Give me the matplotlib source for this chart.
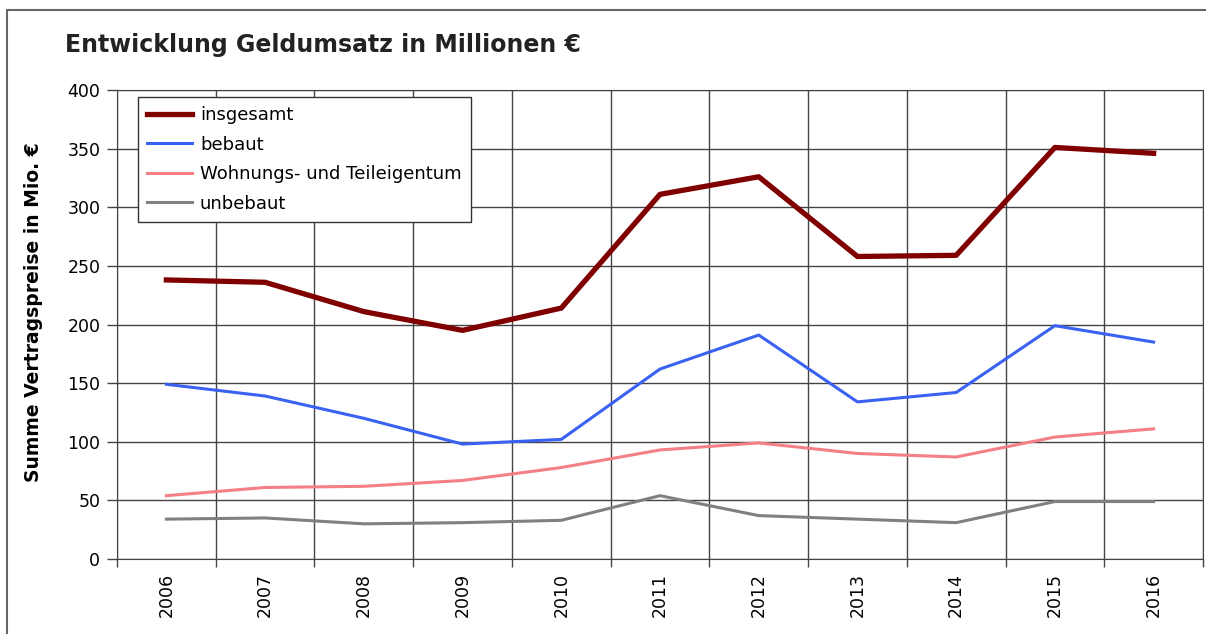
import matplotlib.pyplot as plt
from matplotlib.patches import Rectangle

plt.rcParams['font.family'] = ['DejaVu Sans']

jahre = ['2006', '2007', '2008', '2009', '2010', '2011', '2012', '2013', '2014', '2015', '2016']
insgesamt = [238, 236, 211, 195, 214, 311, 326, 258, 259, 351, 346]
bebaut = [149, 139, 120, 98, 102, 162, 191, 134, 142, 199, 185]
wohnungen = [54, 61, 62, 67, 78, 93, 99, 90, 87, 104, 111]
unbebaut = [34, 35, 30, 31, 33, 54, 37, 34, 31, 49, 49]

fig = plt.figure(figsize=(12.06, 6.34), dpi=100)
ax = fig.add_axes([117/1206, 75/634, 1086/1206, 469/634])

# Rahmen um das ganze Diagramm
fig.patches.append(Rectangle((7/1206, -0.05), 1.2, 1 - 10/634 + 0.05,
                             transform=fig.transFigure, fill=False,
                             edgecolor='#666666', lw=1.5))

x = list(range(len(jahre)))
ax.plot(x, insgesamt, color='#800000', lw=3.8, label='insgesamt')
ax.plot(x, bebaut, color='#3a62f2', lw=2.2, label='bebaut')
ax.plot(x, wohnungen, color='#f47f86', lw=2.2, label='Wohnungs- und Teileigentum')
ax.plot(x, unbebaut, color='#808080', lw=2.2, label='unbebaut')

ax.set_xlim(-0.5, len(jahre) - 0.5)
ax.set_ylim(0, 400)
ax.set_yticks(range(0, 401, 50))
ax.set_xticks(x)
ax.set_xticklabels(jahre, rotation=90, fontsize=12.5)
ax.set_xticks([i - 0.5 for i in range(len(jahre) + 1)], minor=True)
ax.tick_params(axis='x', which='major', length=0, pad=10)
ax.tick_params(axis='x', which='minor', length=6, width=1, color='#444444')
ax.tick_params(axis='y', length=7, width=1, color='#444444', labelsize=12.5, pad=5)

ax.grid(True, axis='y', which='major', color='#444444', lw=1)
ax.grid(True, axis='x', which='minor', color='#444444', lw=1)
ax.set_axisbelow(True)
for s in ax.spines.values():
    s.set_color('#444444')

ax.set_ylabel('Summe Vertragspreise in Mio. €', fontsize=13.5, fontweight='bold')
ax.yaxis.set_label_coords(-74/1086, 0.527)
fig.text(65/1206, 1 - 45/634, 'Entwicklung Geldumsatz in Millionen €',
         fontsize=17, fontweight='bold', ha='left', va='center', color='#222222')

leg = ax.legend(loc='upper left', bbox_to_anchor=(0.019, 0.985), borderaxespad=0,
                fontsize=13, handlelength=2.5, handletextpad=0.45,
                labelspacing=0.64, fancybox=False, framealpha=1,
                edgecolor='#333333', borderpad=0.5)
leg.get_frame().set_linewidth(1)

fig.savefig('out.png', dpi=100)
